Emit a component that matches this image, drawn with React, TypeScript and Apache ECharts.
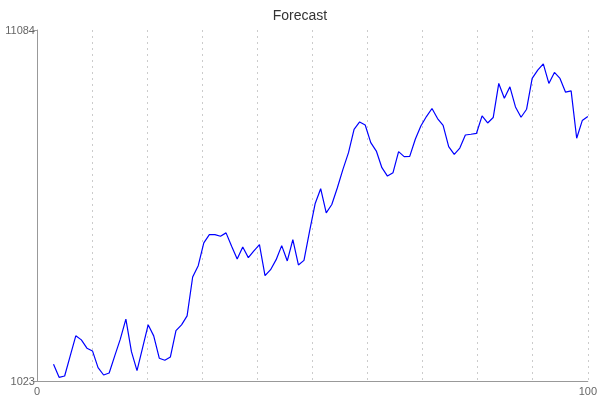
import React, { useEffect, useRef } from "react";
import * as echarts from "echarts";

const title = "Forecast";
const yMin = 1023;
const yMax = 11084;
const xMin = 0;
const xMax = 100;
const xStart = 3;
const xEnd = 100;
const values = [
  1503, 1129, 1167, 1742, 2317, 2202, 1963, 1885, 1405, 1195,
  1253, 1742, 2222, 2797, 1865, 1319, 1972, 2633, 2317, 1676,
  1618, 1713, 2469, 2633, 2891, 4004, 4329, 4981, 5220, 5220,
  5171, 5269, 4884, 4521, 4866, 4559, 4751, 4932, 4041, 4214,
  4501, 4904, 4464, 5076, 4349, 4481, 5315, 6102, 6534, 5844,
  6082, 6562, 7088, 7568, 8238, 8448, 8362, 7856, 7614, 7137,
  6896, 6994, 7597, 7454, 7462, 7951, 8333, 8603, 8833, 8546,
  8353, 7741, 7520, 7701, 8074, 8095, 8123, 8621, 8419, 8575,
  9552, 9129, 9454, 8879, 8583, 8813, 9696, 9934, 10115, 9552,
  9868, 9696, 9302, 9339, 7980, 8488, 8603,
];

export default function App() {
  const ref = useRef<HTMLDivElement>(null);
  useEffect(() => {
    if (!ref.current) return;
    const chart = echarts.init(ref.current, null, { renderer: "svg" });
    const step = (xEnd - xStart) / (values.length - 1);
    const data = values.map((v, k) => [xStart + k * step, v]);
    chart.setOption({
      animation: false,
      title: {
        text: title,
        left: "center",
        top: 3,
        textStyle: {
          fontFamily: "Liberation Sans, Arial, sans-serif",
          fontSize: 14,
          fontWeight: "normal",
          color: "#333",
        },
      },
      grid: { left: 37, right: 11, top: 30, bottom: 19, containLabel: false },
      xAxis: {
        type: "value",
        min: xMin,
        max: xMax,
        interval: 10,
        axisLine: { lineStyle: { color: "#999" } },
        axisTick: { show: false },
        axisLabel: {
          color: "#666",
          fontSize: 11,
          fontFamily: "Liberation Sans, Arial, sans-serif",
          margin: 4,
          formatter: (v: number) => (v === xMin || v === xMax ? String(v) : ""),
        },
        splitLine: {
          show: true,
          lineStyle: { color: "#ccc", type: [2, 4], width: 1 },
        },
      },
      yAxis: {
        type: "value",
        min: yMin,
        max: yMax,
        interval: yMax - yMin,
        axisLine: { show: true, lineStyle: { color: "#999" } },
        axisTick: { show: true, length: 4, lineStyle: { color: "#999" } },
        axisLabel: {
          color: "#666",
          fontSize: 11,
          fontFamily: "Liberation Sans, Arial, sans-serif",
          margin: 2,
          formatter: (v: number) => String(v),
        },
        splitLine: { show: false },
      },
      series: [
        {
          type: "line",
          data,
          showSymbol: false,
          lineStyle: { color: "#0000ff", width: 1.2 },
        },
      ],
    });
    return () => chart.dispose();
  }, []);
  return (
    <div
      ref={ref}
      style={{ position: "fixed", left: 0, top: 0, width: 600, height: 400 }}
    />
  );
}
